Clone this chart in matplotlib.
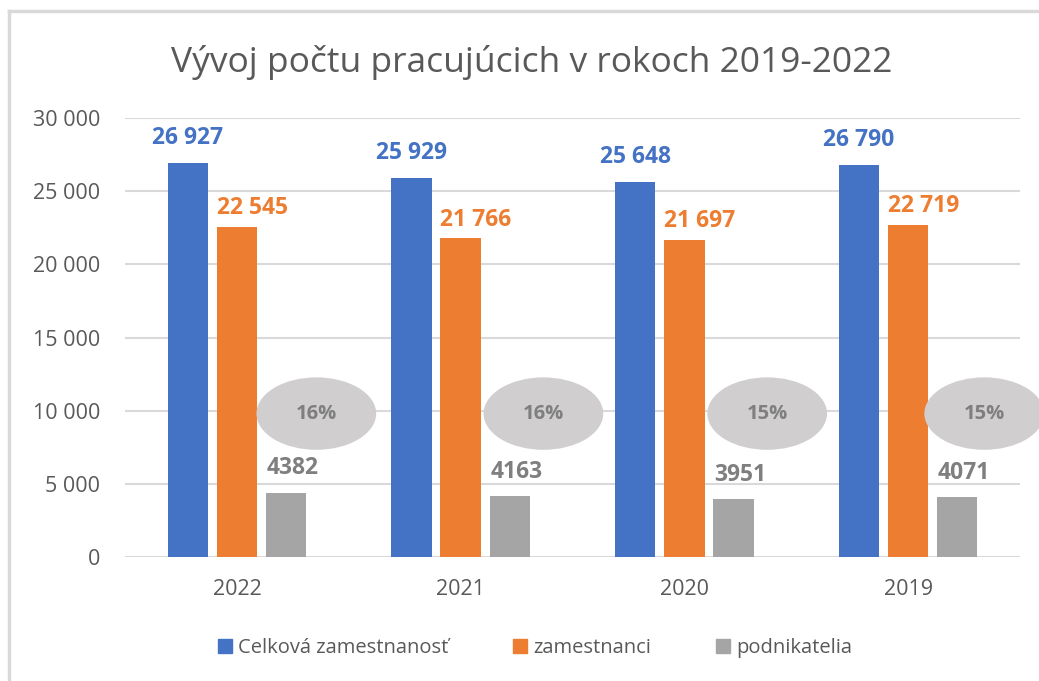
import matplotlib.pyplot as plt
from matplotlib.patches import Ellipse
from matplotlib.lines import Line2D
import numpy as np

years = ['2022', '2021', '2020', '2019']
celkova = [26927, 25929, 25648, 26790]
zamestnanci = [22545, 21766, 21697, 22719]
podnikatelia = [4382, 4163, 3951, 4071]
podiel = ['16%', '16%', '15%', '15%']  # share of podnikatelia, as printed

series_names = ['Celková zamestnanosť', 'zamestnanci', 'podnikatelia']
colors = ['#4472C4', '#ED7D31', '#A5A5A5']
label_colors = ['#4472C4', '#ED7D31', '#7F7F7F']

plt.rcParams['font.family'] = ['Open Sans', 'DejaVu Sans']

fig = plt.figure(figsize=(10.39, 6.81), dpi=100)
ax = fig.add_axes([125 / 1039, 1 - 557 / 681, 895 / 1039, 439 / 681])

x = np.arange(len(years))
w = 0.18
offs = [-0.22, 0.0, 0.22]
lbl_shift = [(0, 9), (11, 5), (5, 9)]  # label offsets in points
data = [celkova, zamestnanci, podnikatelia]

for vals, off, col, lcol, sh, name in zip(data, offs, colors, label_colors, lbl_shift, series_names):
    bars = ax.bar(x + off, vals, width=w, color=col, label=name, zorder=3)
    for b, v in zip(bars, vals):
        if v >= 10000:
            txt = f'{v:,}'.replace(',', ' ')
        else:
            txt = str(v)
        ax.annotate(txt, (b.get_x() + b.get_width() / 2, v), xytext=sh,
                    textcoords='offset points', ha='center', va='bottom',
                    fontsize=16.5, fontweight='bold', color=lcol)

# ellipses with the share of podnikatelia
ell_dx = [0.355, 0.37, 0.37, 0.34]
for xi, dx, p in zip(x, ell_dx, podiel):
    e = Ellipse((xi + dx, 9800), width=0.535, height=4950, facecolor='#D0CECE',
                edgecolor='none', zorder=4, clip_on=False)
    ax.add_patch(e)
    ax.text(xi + dx, 9800, p, ha='center', va='center', fontsize=14.5,
            fontweight='bold', color='#7F7F7F', zorder=5)

ax.set_xlim(-0.5, len(years) - 0.5)
ax.set_ylim(0, 30000)
ax.set_yticks(np.arange(0, 30001, 5000))
ax.set_yticklabels([f'{t:,}'.replace(',', ' ') for t in range(0, 30001, 5000)])
ax.set_xticks(x)
ax.set_xticklabels(years)
ax.tick_params(length=0, labelsize=15.5, colors='#595959')
ax.tick_params(axis='y', pad=18)
ax.tick_params(axis='x', pad=16)
ax.grid(axis='y', color='#D9D9D9', linewidth=1.5, zorder=0)
for s in ax.spines.values():
    s.set_visible(False)

fig.text(532 / 1039, 1 - 62 / 681, 'Vývoj počtu pracujúcich v rokoch 2019-2022',
         ha='center', va='center', fontsize=25.5, color='#595959')

handles = [plt.Rectangle((0, 0), 1, 1, color=c) for c in colors]
fig.legend(handles, series_names, loc='center', bbox_to_anchor=(535 / 1039, 1 - 648 / 681),
           ncol=3, frameon=False, fontsize=14.5, handlelength=0.7, handleheight=0.7,
           handletextpad=0.3, columnspacing=3.2, labelcolor='#595959')

# chart frame (top and left edges visible)
fig.add_artist(Line2D([9 / 1039, 1], [1 - 11 / 681] * 2, color='#D9D9D9', lw=2.5))
fig.add_artist(Line2D([9 / 1039] * 2, [0, 1 - 11 / 681], color='#D9D9D9', lw=2.5))

fig.savefig('out.png', dpi=100, facecolor='white')
